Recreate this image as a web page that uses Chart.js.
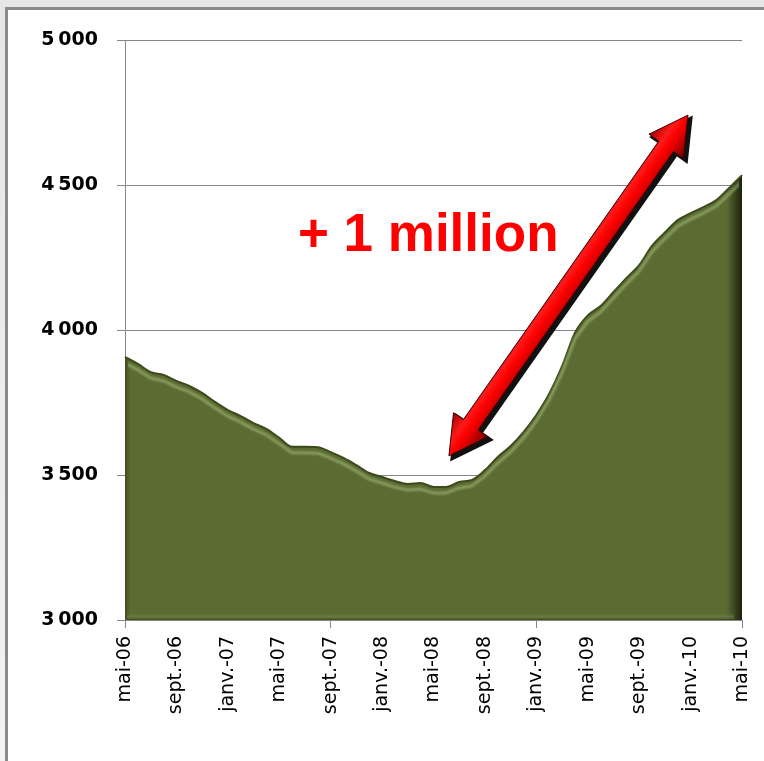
<!DOCTYPE html>
<html>
<head>
<meta charset="utf-8">
<script src="https://cdn.jsdelivr.net/npm/chart.js@4"></script>
<style>
  html, body { margin: 0; padding: 0; }
  body { width: 764px; height: 761px; overflow: hidden; background: linear-gradient(#e6e6e6, #f2f2f2); position: relative; }
  #frame { position: absolute; left: 5px; top: 7px; width: 800px; height: 800px; background: #fff; border: 3px solid #8a8a8a; }
  #chart { position: absolute; left: 0; top: 0; }
</style>
</head>
<body>
<div id="frame"></div>
<canvas id="chart" width="764" height="761"></canvas>
<script>
const months = [
  'mai-06', 'juin-06', 'juil.-06', 'août-06', 'sept.-06', 'oct.-06', 'nov.-06', 'déc.-06',
  'janv.-07', 'févr.-07', 'mars-07', 'avr.-07', 'mai-07', 'juin-07', 'juil.-07', 'août-07',
  'sept.-07', 'oct.-07', 'nov.-07', 'déc.-07',
  'janv.-08', 'févr.-08', 'mars-08', 'avr.-08', 'mai-08', 'juin-08', 'juil.-08', 'août-08',
  'sept.-08', 'oct.-08', 'nov.-08', 'déc.-08',
  'janv.-09', 'févr.-09', 'mars-09', 'avr.-09', 'mai-09', 'juin-09', 'juil.-09', 'août-09',
  'sept.-09', 'oct.-09', 'nov.-09', 'déc.-09',
  'janv.-10', 'févr.-10', 'mars-10', 'avr.-10', 'mai-10'
]

const jobseekers = [
  3907, 3883, 3855, 3845, 3824, 3807, 3783, 3752,
  3724, 3703, 3679, 3659, 3628, 3597, 3597, 3596,
  3579, 3559, 3534, 3507,
  3493, 3479, 3469, 3472, 3459, 3459, 3476, 3483,
  3517, 3562, 3600, 3648,
  3707, 3780, 3875, 3990, 4050, 4083, 4131, 4179,
  4224, 4290, 4336, 4379,
  4403, 4424, 4448, 4490, 4534
]

const yTicks = [3000, 3500, 4000, 4500, 5000]

// annotation anchors, in data units (index, value)
const arrowFrom = [25.2, 3566]
const arrowTo = [43.8, 4741]
const noteText = '+ 1 million'
const notePos = [13.45, 4272]

const gridColor = '#868686'

function fmt(v) {
  return String(v).replace(/\B(?=(\d{3})+$)/g, '\u202f')
}

const bevel = {
  id: 'bevel',
  afterDatasetsDraw(chart) {
    const ctx = chart.ctx
    const pts = chart.getDatasetMeta(0).data
    const area = chart.chartArea
    ctx.save()
    ctx.beginPath()
    ctx.rect(area.left + 3, area.top, area.right - area.left - 6, area.bottom - area.top - 3)
    ctx.clip()
    ctx.translate(0, 6)
    ctx.beginPath()
    pts.forEach((p, i) => i ? ctx.lineTo(p.x, p.y) : ctx.moveTo(p.x, p.y))
    ctx.strokeStyle = 'rgba(168, 194, 126, 0.6)'
    ctx.lineWidth = 3
    ctx.lineJoin = 'round'
    ctx.filter = 'blur(1px)'
    ctx.stroke()
    ctx.restore()
    // soft bottom rim
    ctx.save()
    const g = ctx.createLinearGradient(0, area.bottom - 8, 0, area.bottom)
    g.addColorStop(0, 'rgba(91,107,49,0)')
    g.addColorStop(0.6, 'rgba(120,138,80,0.5)')
    g.addColorStop(1, 'rgba(50,60,25,0.8)')
    ctx.fillStyle = g
    ctx.fillRect(area.left + 2, area.bottom - 8, area.right - area.left - 10, 8)
    ctx.restore()
  }
}

const annot = {
  id: 'annot',
  afterDraw(chart) {
    const ctx = chart.ctx
    const xs = chart.scales.x
    const ys = chart.scales.y
    const ax = xs.getPixelForValue(arrowFrom[0]), ay = ys.getPixelForValue(arrowFrom[1])
    const bx = xs.getPixelForValue(arrowTo[0]), by = ys.getPixelForValue(arrowTo[1])
    const len = Math.hypot(bx - ax, by - ay)
    const ux = (bx - ax) / len, uy = (by - ay) / len
    const nx = -uy, ny = ux
    const hw = 9, hh = 21, hl = 38
    const pts = [
      [0, 0], [hl, hh], [hl, hw], [len - hl, hw], [len - hl, hh], [len, 0],
      [len - hl, -hh], [len - hl, -hw], [hl, -hw], [hl, -hh]
    ].map(([s, t]) => [ax + ux * s + nx * t, ay + uy * s + ny * t])

    function path(dx, dy) {
      ctx.beginPath()
      pts.forEach(([x, y], i) => i ? ctx.lineTo(x + dx, y + dy) : ctx.moveTo(x + dx, y + dy))
      ctx.closePath()
    }
    ctx.save()
    path(3, 3)
    ctx.fillStyle = '#111'
    ctx.fill()
    ctx.lineWidth = 3
    ctx.strokeStyle = '#111'
    ctx.stroke()
    const mx = (ax + bx) / 2, my = (ay + by) / 2
    const g = ctx.createLinearGradient(mx - nx * hh, my - ny * hh, mx + nx * hh, my + ny * hh)
    g.addColorStop(0, '#a00000')
    g.addColorStop(0.35, '#ff1a1a')
    g.addColorStop(0.5, '#ff0000')
    g.addColorStop(0.65, '#e00000')
    g.addColorStop(1, '#700000')
    path(0, 0)
    ctx.fillStyle = g
    ctx.fill()
    ctx.strokeStyle = '#3a0000'
    ctx.lineWidth = 1
    ctx.stroke()

    ctx.fillStyle = '#ff0000'
    ctx.font = 'bold 53px "Liberation Sans", Arial, sans-serif'
    ctx.textBaseline = 'alphabetic'
    ctx.textAlign = 'left'
    ctx.fillText(noteText, xs.getPixelForValue(notePos[0]), ys.getPixelForValue(notePos[1]))
    ctx.restore()
  }
}

const chart = new Chart(document.getElementById('chart'), {
  type: 'line',
  data: {
    labels: months,
    datasets: [{
      data: jobseekers,
      fill: 'start',
      borderColor: '#3c4a1c',
      borderWidth: 2,
      pointRadius: 0,
      cubicInterpolationMode: 'monotone',
      backgroundColor(c) {
        const a = c.chart.chartArea
        if (!a) return '#5b6b31'
        const g = c.chart.ctx.createLinearGradient(a.left, 0, a.right, 0)
        g.addColorStop(0, '#3f4b20')
        g.addColorStop(0.008, '#5b6b31')
        g.addColorStop(0.975, '#5b6b31')
        g.addColorStop(1, '#1c220d')
        return g
      }
    }]
  },
  options: {
    responsive: false,
    animation: false,
    events: [],
    layout: { padding: { top: 40, right: 22, left: 0, bottom: 0 } },
    plugins: { legend: { display: false }, tooltip: { enabled: false } },
    scales: {
      x: {
        offset: false,
        afterFit(s) { s.height = 141; s.paddingLeft = 0; s.paddingRight = 0 },
        grid: {
          drawOnChartArea: false,
          tickLength: 8,
          color: c => c.index % 4 === 0 ? gridColor : 'rgba(0,0,0,0)'
        },
        border: { color: gridColor },
        ticks: {
          autoSkip: false,
          maxRotation: 90,
          minRotation: 90,
          padding: 8,
          color: '#000',
          font: { family: 'DejaVu Sans', size: 19 },
          callback(v, i) { return i % 4 === 0 ? months[i] : null }
        }
      },
      y: {
        min: yTicks[0],
        max: yTicks[yTicks.length - 1],
        afterFit(s) { s.width = 125; s.paddingTop = 0; s.paddingBottom = 0 },
        afterBuildTicks(s) { s.ticks = yTicks.map(v => ({ value: v })) },
        grid: { color: gridColor, tickLength: 8 },
        border: { color: gridColor },
        ticks: {
          padding: 19,
          color: '#000',
          font: { family: 'DejaVu Sans', size: 19, weight: 'bold' },
          callback: v => fmt(v)
        }
      }
    }
  },
  plugins: [bevel, annot]
})
</script>
</body>
</html>
